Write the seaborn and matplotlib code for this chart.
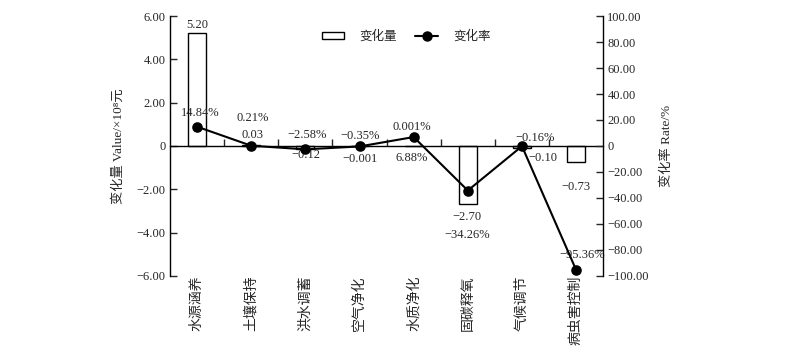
import numpy as np
import seaborn as sns
import matplotlib.pyplot as plt
from matplotlib.patches import Patch
from matplotlib.lines import Line2D

sns.set_style('white')
plt.rcParams['font.family'] = ['Liberation Serif', 'Noto Sans CJK SC', 'DejaVu Sans']
plt.rcParams['axes.unicode_minus'] = True

# 数据
cats = ['水源涵养', '土壤保持', '洪水调蓄', '空气净化', '水质净化', '固碳释氧', '气候调节', '病虫害控制']
values = [5.20, 0.03, -0.12, -0.001, 0.001, -2.70, -0.10, -0.73]     # 变化量 ×10^8元
rates = [14.84, 0.21, -2.58, -0.35, 6.88, -34.26, -0.16, -95.36]     # 变化率 %

# 标注文字(按原图位置)
ann_text = ['5.20', '14.84%', '0.21%', '0.03', '−2.58%', '−0.12', '−0.35%', '−0.001',
            '0.001%', '6.88%', '−2.70', '−34.26%', '−0.16%', '−0.10', '−0.73', '−95.36%']
ann_x = [0.0, 0.05, 1.03, 1.03, 2.03, 2.0, 3.01, 3.01,
         3.97, 3.97, 4.99, 4.99, 6.25, 6.38, 6.99, 7.12]
ann_y = [5.58, 1.52, 1.29, 0.51, 0.51, -0.42, 0.46, -0.6,
         0.88, -0.55, -3.28, -4.11, 0.37, -0.55, -1.89, -5.03]

fig = plt.figure(figsize=(8, 3.52), dpi=100)
ax = fig.add_axes([0.2125, 0.216, 0.5415, 0.7385])
ax2 = ax.twinx()

sns.barplot(x=cats, y=values, ax=ax, width=0.33, color='white', edgecolor='black',
            linewidth=1, saturation=1, errorbar=None)
sns.pointplot(x=cats, y=rates, ax=ax2, color='black', markers='o', linestyles='-',
              markersize=6.5, linewidth=1.5, errorbar=None)

ax.set_xlim(-0.5, 7.5)
ax.set_ylim(-6, 6)
ax2.set_ylim(-100, 100)
ax.set_zorder(1)
ax.patch.set_visible(False)
ax2.set_zorder(2)

yt = np.arange(-6, 7, 2)
ax.set_yticks(yt)
ax.set_yticklabels([('%.2f' % v).replace('-', '−') if v != 0 else '0' for v in yt], fontsize=9)
yt2 = np.arange(-100, 101, 20)
ax2.set_yticks(yt2)
ax2.set_yticklabels([('%.2f' % v).replace('-', '−') if v != 0 else '0' for v in yt2], fontsize=9)

ax.set_xticks(range(len(cats)))
ax.set_xticklabels(cats, fontsize=9)
ax.set_xticks(np.arange(0.5, 7.5, 1), minor=True)
ax.tick_params(axis='x', which='major', length=0, pad=93, labelrotation=90)
ax.tick_params(axis='x', which='minor', direction='in', length=5, width=1, bottom=True)
ax.tick_params(axis='y', direction='in', length=5, width=1, left=True, pad=3)
ax2.tick_params(axis='y', direction='in', length=5, width=1, right=True, pad=3)

for s in ['top', 'right']:
    ax.spines[s].set_visible(False)
for s in ['top', 'left', 'bottom']:
    ax2.spines[s].set_visible(False)
ax.spines['bottom'].set_position(('data', 0))
for s in ['left', 'bottom']:
    ax.spines[s].set_color('black')
    ax.spines[s].set_linewidth(1)
ax2.spines['right'].set_color('black')
ax2.spines['right'].set_linewidth(1)

ax.set_xlabel('')
ax2.set_xlabel('')
ax.set_ylabel('变化量 Value/×10⁸元', fontsize=9.5)
ax.yaxis.set_label_coords(-0.104, 0.5)
ax2.set_ylabel('变化率 Rate/%', fontsize=9.5)
ax2.yaxis.set_label_coords(1.132, 0.5)

for t, x, y in zip(ann_text, ann_x, ann_y):
    ax.text(x, y, t, ha='center', va='center', fontsize=9, zorder=5)

handles = [Patch(facecolor='white', edgecolor='black', linewidth=1),
           Line2D([0], [0], color='black', marker='o', markersize=6.5, linewidth=1.5)]
ax2.legend(handles, ['变化量', '变化率'], loc='center', bbox_to_anchor=(0.545, 0.92),
           ncol=2, frameon=False, fontsize=9, handlelength=1.8, handleheight=0.5,
           handletextpad=1.2, columnspacing=1.5)

plt.savefig('out.png', dpi=100)
